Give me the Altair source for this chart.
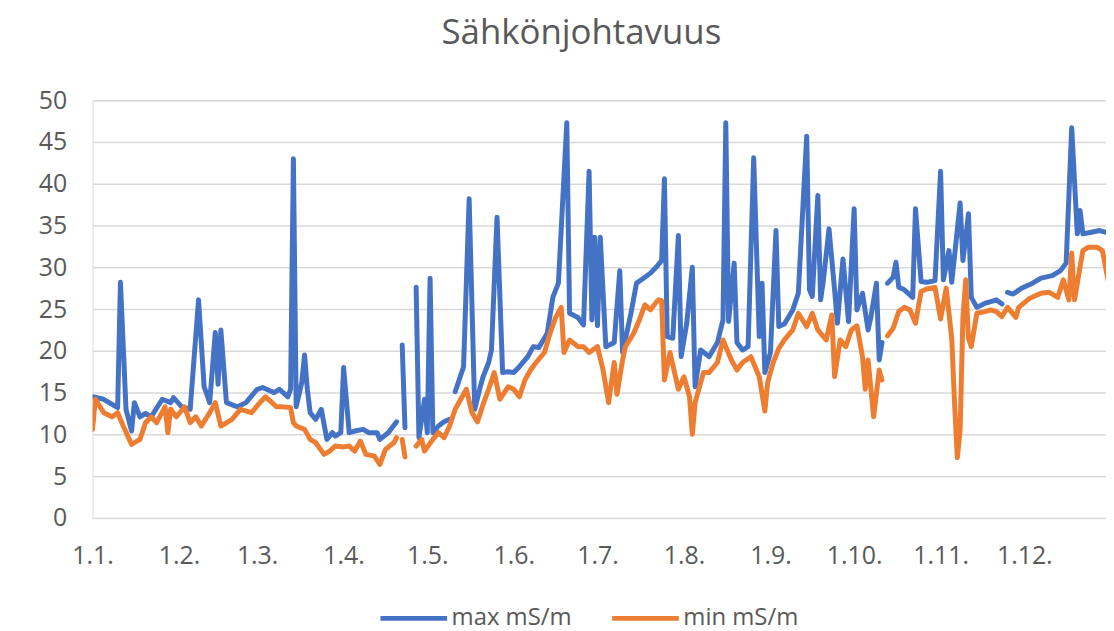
import altair as alt
import pandas as pd

TITLE = "Sähkönjohtavuus"
SERIES = ["max mS/m", "min mS/m"]
COLORS = ["#4472C4", "#ED7D31"]
Y_TICKS = [0, 5, 10, 15, 20, 25, 30, 35, 40, 45, 50]
X_TICK_MONTHS = [1, 2, 3, 4, 5, 6, 7, 8, 9, 10, 11, 12]
YEAR = 2021

# day of year (0 = 1.1.) and value; None = gap in the line
max_days = [0, 4, 9, 10, 12, 14, 15, 17, 19, 21, 25, 28, 29, 32, 35, 38, 40, 42, 44, 45,
            46, 48, 52, 55, 59, 61, 65, 67, 70, 71, 72, 73, 75, 76, 77, 78, 80, 82, 84, 86,
            87, 89, 90, 92, 94, 97, 99, 102, 103, 106, 109, 110, 111, 112, 113, 116, 117, 119, 120, 121,
            122, 124, 126, 128, 129, 130, 133, 135, 137, 139, 140, 142, 143, 145, 147, 149, 151, 153, 156, 158,
            160, 163, 165, 167, 170, 171, 174, 176, 178, 179, 180, 181, 182, 184, 187, 189, 190, 193, 195, 198,
            200, 202, 204, 205, 206, 208, 210, 211, 213, 215, 216, 218, 221, 224, 226, 227, 228, 230, 231, 233,
            235, 237, 239, 240, 241, 243, 245, 246, 248, 251, 253, 256, 257, 258, 260, 261, 262, 264, 266, 267,
            269, 271, 273, 274, 276, 278, 279, 281, 282, 283, 284, 285, 287, 288, 289, 291, 294, 295, 297, 299,
            302, 304, 305, 307, 308, 311, 312, 314, 315, 317, 320, 322, 324, 326, 327, 328, 330, 333, 337, 340,
            344, 347, 349, 351, 353, 354, 355, 358, 361, 363]
max_vals = [14.5, 14.2, 13.2, 28.2, 13, 10.4, 13.8, 12.1, 12.5, 12.1, 14.2, 13.8, 14.4, 13.3, 13, 26.1, 15.7, 13.8, 22.2, 16,
            22.5, 13.8, 13.3, 13.8, 15.4, 15.6, 15, 15.4, 14.5, 15.4, 43, 13.3, 16.2, 19.5, 15.4, 12.6, 11.8, 13, 9.4, 10.2,
            9.8, 10.2, 18, 10.2, 10.4, 10.6, 10.2, 10.2, 9.4, 10.2, 11.5, None, 20.7, 10.8, None, 27.6, 9.6, 14.2, 10.2, 28.7,
            10.2, 11, 11.5, 11.8, None, 15.1, 18.1, 38.2, 13, 15.7, 16.9, 18.6, 20.1, 36, 17.4, 17.5, 17.4, 18.1, 19.3, 20.5,
            20.4, 22.1, 26.4, 28.1, 47.3, 24.5, 24, 23.1, 41.5, 23.7, 33.6, 23, 33.6, 20.5, 21, 29.6, 19.8, 24.5, 28.1, 28.8,
            29.3, 30, 30.8, 40.6, 21.7, 21.5, 33.8, 19.3, 23.3, 30, 15.7, 20.1, 19.3, 21, 23.7, 47.3, 23.5, 30.5, 21, 20.1,
            20.5, 43.1, 21.7, 28.1, 17.4, 19.8, 34.4, 22.9, 23.2, 24.9, 26.9, 45.7, 27.3, 26.5, 38.6, 26.1, 28.5, 34.6, 27.3, 23.3,
            31, 23.5, 37, 24.9, 26.9, 22.5, 24, 28.1, 18.9, 21, None, 28.1, 28.8, 30.6, 27.6, 27.3, 26.4, 37, 28.3, 28.2,
            28.4, 41.5, 28.5, 32, 28.2, 37.7, 30.8, 36.4, 26.4, 25.2, 25.7, 25.9, 26.1, 25.6, None, 27, 26.8, 27.5, 28.1, 28.7,
            29, 29.6, 30.5, 46.7, 34, 36.8, 34, 34.2, 34.4, 34.2]

min_days = [0, 1, 4, 7, 9, 11, 14, 17, 19, 21, 23, 26, 27, 28, 30, 33, 35, 37, 39, 42,
            44, 46, 50, 53, 57, 60, 62, 66, 68, 71, 72, 73, 76, 78, 80, 83, 85, 87, 90, 92,
            94, 96, 98, 101, 103, 105, 108, 109, 110, 111, 112, 113, 116, 118, 119, 122, 124, 126, 128, 130,
            132, 134, 136, 138, 140, 142, 144, 146, 149, 151, 153, 155, 157, 159, 162, 164, 166, 168, 169, 171,
            174, 176, 178, 181, 183, 185, 187, 188, 190, 191, 194, 196, 198, 200, 202, 203, 204, 205, 207, 210,
            212, 214, 215, 216, 219, 221, 224, 226, 229, 231, 233, 236, 239, 241, 242, 244, 246, 248, 251, 253,
            256, 258, 260, 263, 265, 266, 268, 270, 272, 274, 276, 277, 278, 280, 282, 283, 284, 285, 287, 289,
            291, 293, 295, 297, 299, 302, 304, 306, 308, 309, 310, 311, 312, 313, 314, 315, 316, 317, 320, 322,
            324, 326, 328, 331, 332, 336, 340, 343, 346, 348, 350, 351, 352, 355, 357, 360, 362, 364]
min_vals = [10.6, 14.2, 12.6, 12.1, 12.6, 11, 8.8, 9.4, 11.4, 12.1, 11.4, 13.3, 10.2, 13, 12.1, 13.3, 11.4, 12.1, 11, 12.6,
            13.8, 11, 11.8, 13, 12.6, 13.8, 14.5, 13.3, 13.3, 13.2, 11.4, 11, 10.6, 9.4, 9, 7.6, 8, 8.6, 8.5, 8.6,
            8, 9.2, 7.6, 7.4, 6.4, 8.2, 9, 9.6, None, 9.4, 7.3, None, 8.6, 9.4, 8, 9.4, 10.2, 9.6, 11, 13,
            14.2, 15.4, 12.6, 11.5, 13.6, 15.4, 17.4, 14.2, 15.7, 15.4, 14.5, 16.5, 17.7, 18.6, 19.8, 22.1, 24, 25.2, 19.8, 21.3,
            20.5, 20.5, 19.8, 20.5, 17.7, 13.8, 18.6, 14.8, 18.9, 20.5, 22.1, 23.7, 25.5, 24.9, 25.8, 26.1, 26, 16.5, 19.8, 15.4,
            16.9, 14.5, 10, 13.8, 17.4, 17.4, 18.6, 21.3, 18.9, 17.7, 18.6, 19.3, 16.9, 12.8, 16.2, 18.6, 20.3, 21.3, 22.5, 24.5,
            22.9, 24.5, 22.5, 21.3, 24.3, 16.9, 21.3, 20.5, 22.5, 23, 19.3, 15.4, 18.9, 12.1, 17.7, 16.5, None, 21.8, 22.7, 24.7,
            25.2, 24.9, 23.3, 27.1, 27.4, 27.6, 23.8, 27.5, 21.5, 13.8, 7.2, 10.5, 24, 28.5, 21.5, 20.5, 22.5, 24.5, 24.7, 24.9,
            24.7, 24.1, 25.2, 24, 25.2, 26.3, 26.9, 27, 26.4, 28.5, 26.1, 31.7, 26.1, 32, 32.4, 32.4, 32, 28.5]

start = pd.Timestamp(f"{YEAR}-01-01")
rows = []
for name, days, vals in [(SERIES[0], max_days, max_vals), (SERIES[1], min_days, min_vals)]:
    for d, v in zip(days, vals):
        rows.append({"date": start + pd.Timedelta(days=d), "value": v, "series": name})
df = pd.DataFrame(rows)

GRAY = "#595959"
FONT = "Open Sans"

chart = alt.Chart(df).mark_line(
    strokeWidth=5, strokeJoin="round", strokeCap="round", clip=True,
    invalid="break-paths-filter-domains"
).encode(
    x=alt.X("date:T",
            scale=alt.Scale(domain=[alt.DateTime(year=YEAR, month=1, date=1),
                                    alt.DateTime(year=YEAR, month=12, date=30, hours=7)]),
            axis=alt.Axis(values=[alt.DateTime(year=YEAR, month=m, date=1) for m in X_TICK_MONTHS],
                          format="%-d.%-m.", title=None, grid=False, domain=False, ticks=False,
                          labelFontSize=25, labelColor=GRAY, labelFont=FONT, labelPadding=26,
                          labelAlign="center", labelBaseline="top", labelOverlap=False, labelFlush=False)),
    y=alt.Y("value:Q",
            scale=alt.Scale(domain=[0, 50], nice=False),
            axis=alt.Axis(values=Y_TICKS, title=None, domain=False, ticks=False, grid=True,
                          gridColor="#d9d9d9", gridWidth=1.5,
                          labelFontSize=25, labelColor=GRAY, labelFont=FONT, labelPadding=26)),
    color=alt.Color("series:N",
                    scale=alt.Scale(domain=SERIES, range=COLORS),
                    legend=alt.Legend(title=None, orient="none", legendX=287, legendY=485,
                                      direction="horizontal", symbolType="stroke", symbolSize=4489,
                                      symbolStrokeWidth=5, labelFontSize=24, labelColor=GRAY,
                                      labelFont=FONT, labelOffset=2, columnPadding=30, padding=0)),
).properties(
    width=1019, height=420,
    autosize="none",
    padding={"left": 85, "top": 91, "right": 0, "bottom": 112},
    title=alt.Title(TITLE, fontSize=35, font=FONT, fontWeight="normal", color=GRAY,
                    anchor="middle", frame="group", dx=-18, offset=10, baseline="alphabetic"),
).configure_view(stroke=None).configure(background="white")

chart.save("out.html", embed_options={"renderer": "svg", "actions": False})
